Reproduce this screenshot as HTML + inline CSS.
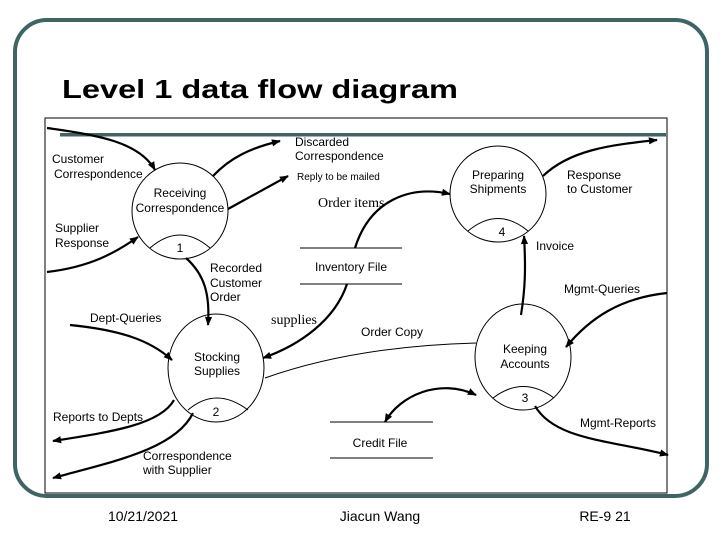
<!DOCTYPE html>
<html><head><meta charset="utf-8"><style>
html,body{margin:0;padding:0;background:#fff;}
svg{display:block;font-family:"Liberation Sans",sans-serif;}
</style></head><body>
<svg width="720" height="540" viewBox="0 0 720 540" xmlns="http://www.w3.org/2000/svg">
<defs>
<marker id="b" viewBox="0 0 10 10" refX="9" refY="5" markerWidth="9" markerHeight="9" orient="auto-start-reverse" markerUnits="userSpaceOnUse">
<path d="M0,1 L10,5 L0,9 z" fill="#000"/></marker>
</defs>
<rect x="15" y="20" width="692" height="476" rx="32" fill="#fff" stroke="#3f6464" stroke-width="4"/>
<text x="62" y="98" font-size="26" font-weight="bold" fill="#000" textLength="396" lengthAdjust="spacingAndGlyphs">Level 1 data flow diagram</text>
<rect x="45" y="118" width="622" height="375" fill="#fff" stroke="#000" stroke-width="1"/>
<rect x="60" y="133" width="606" height="3.5" fill="#3f6464"/>

<g stroke="#000" stroke-width="1">
<line x1="300" y1="248" x2="402" y2="248"/><line x1="300" y1="284" x2="402" y2="284"/>
<line x1="330" y1="422" x2="433" y2="422"/><line x1="330" y1="458" x2="433" y2="458"/>
</g>

<g fill="none" stroke="#000" stroke-width="1">
<circle cx="180" cy="211" r="48"/>
<path d="M150,248 Q180,222 210,248"/>
<circle cx="498" cy="194" r="48"/>
<path d="M468,231 Q498,206 528,231"/>
<ellipse cx="216" cy="368" rx="48" ry="54"/>
<path d="M188,410 Q216,386 248,410"/>
<ellipse cx="523" cy="357" rx="48" ry="53"/>
<path d="M493,398 Q523,375 554,398"/>
<path d="M265,378 C330,355 400,345 476,343"/>
</g>

<g fill="none" stroke="#000" stroke-width="2.2">
<path d="M47,128 C100,135 140,143 155,170" marker-end="url(#b)"/>
<path d="M47,272 C90,267 115,253 138,237" marker-end="url(#b)"/>
<path d="M213,176 C230,158 250,148 280,141" marker-end="url(#b)"/>
<path d="M228,209 L288,176" marker-end="url(#b)"/>
<path d="M355,248 C370,200 410,185 450,194" marker-end="url(#b)"/>
<path d="M543,176 C570,150 610,145 657,140" marker-end="url(#b)"/>
<path d="M521,315 C525,290 526,270 524,236" marker-end="url(#b)"/>
<path d="M186,258 C205,275 210,295 208,325" marker-end="url(#b)"/>
<path d="M347,284 C335,320 300,345 263,358" marker-end="url(#b)"/>
<path d="M70,325 C120,330 150,340 172,360" marker-end="url(#b)"/>
<path d="M667,293 C620,298 590,318 566,347" marker-end="url(#b)"/>
<path d="M385,422 C400,395 440,378 476,395" marker-start="url(#b)" marker-end="url(#b)"/>
<path d="M174,400 C160,425 110,432 53,441" marker-end="url(#b)"/>
<path d="M193,413 C175,450 110,462 53,478" marker-end="url(#b)"/>
<path d="M535,406 C555,440 610,440 668,455" marker-end="url(#b)"/>
</g>

<g font-size="12" fill="#000">
<text x="52" y="163">Customer</text>
<text x="54" y="178">Correspondence</text>
<text x="295" y="146">Discarded</text>
<text x="295" y="160">Correspondence</text>
<text x="297" y="180" font-size="10">Reply to be mailed</text>
<text x="180" y="197" text-anchor="middle">Receiving</text>
<text x="180" y="212" text-anchor="middle">Correspondence</text>
<text x="318" y="207" font-family="Liberation Serif,serif" font-size="14">Order items</text>
<text x="55" y="232">Supplier</text>
<text x="55" y="247">Response</text>
<text x="180" y="252" text-anchor="middle">1</text>
<text x="210" y="272">Recorded</text>
<text x="210" y="287">Customer</text>
<text x="210" y="301">Order</text>
<text x="351" y="271" text-anchor="middle">Inventory File</text>
<text x="498" y="179" text-anchor="middle">Preparing</text>
<text x="498" y="193" text-anchor="middle">Shipments</text>
<text x="567" y="179">Response</text>
<text x="567" y="193">to Customer</text>
<text x="502" y="236" text-anchor="middle">4</text>
<text x="536" y="250">Invoice</text>
<text x="564" y="293">Mgmt-Queries</text>
<text x="90" y="322">Dept-Queries</text>
<text x="271" y="324" font-family="Liberation Serif,serif" font-size="14">supplies</text>
<text x="361" y="336">Order Copy</text>
<text x="525" y="353" text-anchor="middle">Keeping</text>
<text x="525" y="368" text-anchor="middle">Accounts</text>
<text x="217" y="361" text-anchor="middle">Stocking</text>
<text x="217" y="375" text-anchor="middle">Supplies</text>
<text x="525" y="402" text-anchor="middle">3</text>
<text x="216" y="416" text-anchor="middle">2</text>
<text x="53" y="421">Reports to Depts</text>
<text x="580" y="427">Mgmt-Reports</text>
<text x="380" y="447" text-anchor="middle">Credit File</text>
<text x="143" y="460">Correspondence</text>
<text x="143" y="474">with Supplier</text>
</g>
<g font-size="14" fill="#000" text-anchor="middle">
<text x="143" y="521">10/21/2021</text>
<text x="380" y="521">Jiacun Wang</text>
<text x="605" y="521">RE-9 21</text>
</g>
</svg>
</body></html>
